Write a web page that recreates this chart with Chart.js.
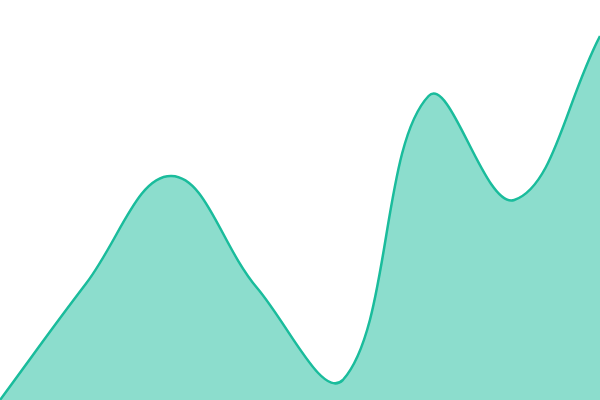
<!DOCTYPE html>
<html>
<head>
<meta charset="utf-8">
<style>
  html, body { margin: 0; padding: 0; background: #fff; }
  #wrap { width: 600px; height: 400px; }
</style>
<script src="https://cdn.jsdelivr.net/npm/chart.js@4"></script>
</head>
<body>
<div id="wrap"><canvas id="areaChart"></canvas></div>
<script>
// DATA
const labels = ['1', '2', '3', '4', '5', '6', '7', '8'];
const values = [0, 29, 56, 28, 5, 76, 50, 91];

const ctx = document.getElementById('areaChart').getContext('2d');
new Chart(ctx, {
    type: 'line',
    data: {
        labels: labels,
        datasets: [{
            data: values,
            borderColor: '#1abc9c',
            borderWidth: 2.5,
            backgroundColor: 'rgba(26, 188, 156, 0.5)',
            fill: true,
            tension: 0.4,
            pointRadius: 0
        }]
    },
    options: {
        responsive: true,
        maintainAspectRatio: false,
        animation: false,
        layout: { padding: 0 },
        plugins: { legend: { display: false }, tooltip: { enabled: false } },
        scales: {
            x: { display: false },
            y: { display: false, min: 0, max: 100 }
        }
    }
});
</script>
</body>
</html>
